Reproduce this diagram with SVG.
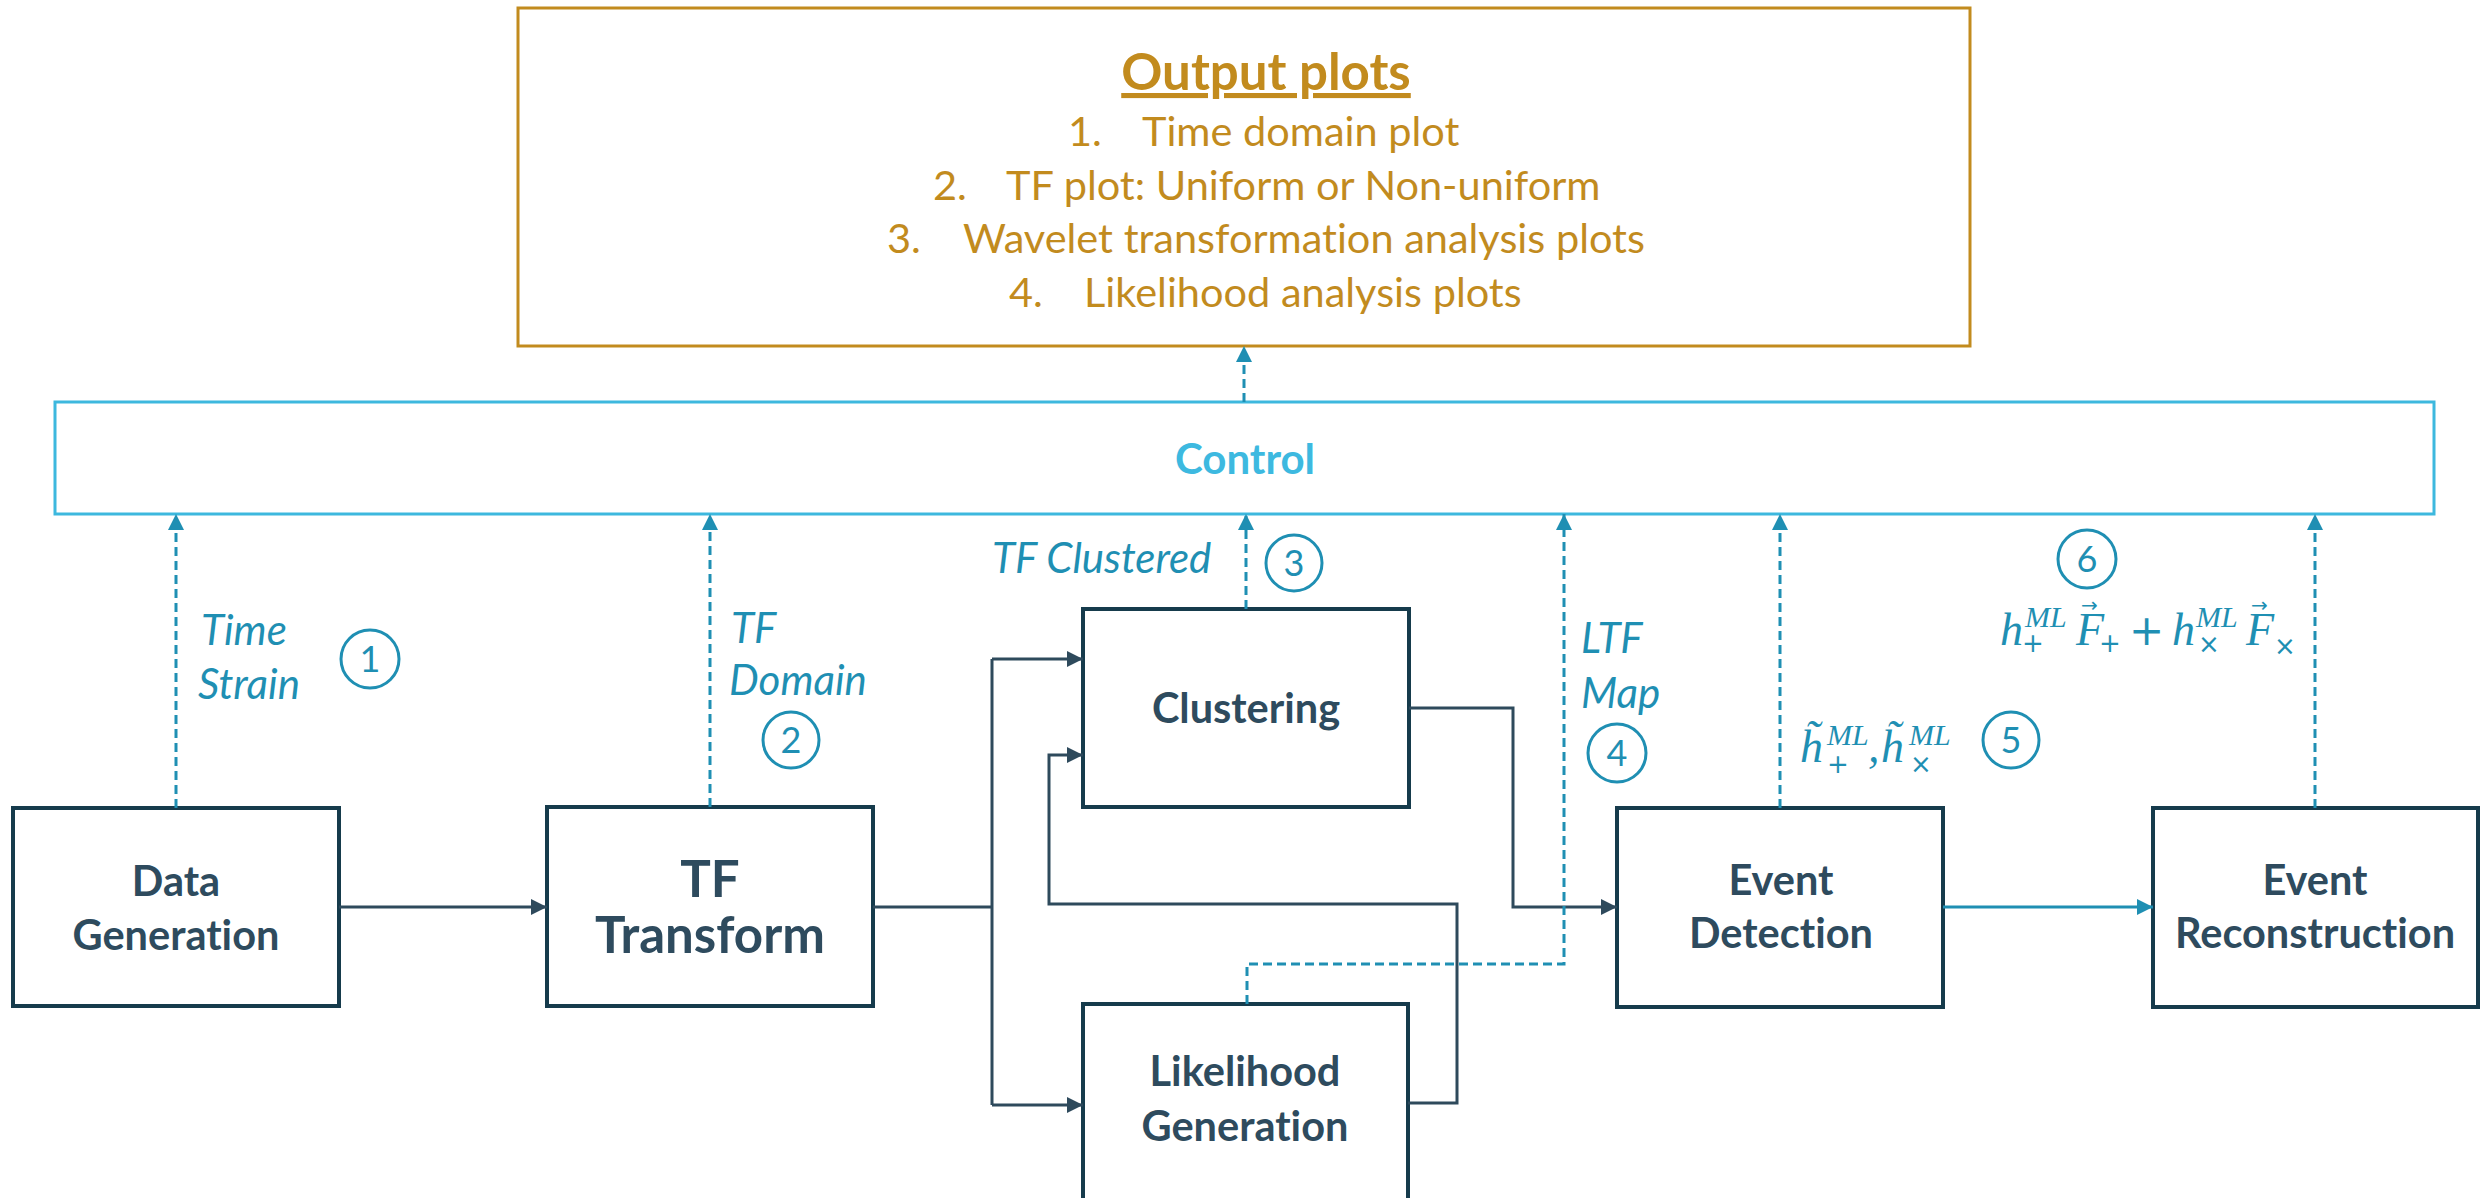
<svg xmlns="http://www.w3.org/2000/svg" width="2484" height="1198" viewBox="0 0 2484 1198">
<style>
text{font-variant-ligatures:none}
.node{fill:#fff;stroke:#163b4c;stroke-width:4}
.nt{font-family:Lato,"Open Sans",sans-serif;font-weight:bold;font-size:41.5px;fill:#2e4b5e;text-anchor:middle}
.big{font-size:51px}
.solid{fill:none;stroke:#2e4a5c;stroke-width:3}
.dash{fill:none;stroke:#1f8fb3;stroke-width:3;stroke-dasharray:9 5}
.lab{font-family:Lato,"Open Sans",sans-serif;font-style:italic;font-size:42px;fill:#1f8fb3}
.circ{fill:none;stroke:#1f8fb3;stroke-width:3}
.cn{font-family:Lato,"Open Sans",sans-serif;font-size:36px;fill:#1f8fb3;text-anchor:middle}
.gold{font-family:Lato,"Open Sans",sans-serif;font-size:41.5px;fill:#c28b1e}
.m{font-family:"Liberation Serif",serif;font-style:italic;font-size:46px;fill:#1f8fb3}
.sup{font-size:30px}
.op{font-family:"DejaVu Sans",sans-serif;font-style:normal;font-size:26px}
.vec{font-family:"DejaVu Sans",sans-serif;font-style:normal;font-size:20px}
.plus{font-family:"DejaVu Sans",sans-serif;font-style:normal;font-size:42px}
</style>
<defs>
<marker id="aT" viewBox="0 0 16 16" refX="16" refY="8" markerWidth="16" markerHeight="16" markerUnits="userSpaceOnUse" orient="auto"><path d="M0,0 L16,8 L0,16 z" fill="#1f8fb3"/></marker>
<marker id="aD" viewBox="0 0 16 16" refX="16" refY="8" markerWidth="16" markerHeight="16" markerUnits="userSpaceOnUse" orient="auto"><path d="M0,0 L16,8 L0,16 z" fill="#2e4a5c"/></marker>
</defs>
<rect width="2484" height="1198" fill="#fff"/>

<g id="output">
<rect x="518" y="8" width="1452" height="338" fill="#fff" stroke="#c28b1e" stroke-width="3"/>
<text x="1266" y="90" text-anchor="middle" font-family="Lato,'Open Sans',sans-serif" font-weight="bold" font-size="51" fill="#c28b1e" text-decoration="underline">Output plots</text>
<text class="gold" x="1068" y="146">1.</text><text class="gold" x="1142" y="146">Time domain plot</text>
<text class="gold" x="933" y="200">2.</text><text class="gold" x="1006" y="200">TF plot: Uniform or Non-uniform</text>
<text class="gold" x="887" y="253">3.</text><text class="gold" x="963" y="253">Wavelet transformation analysis plots</text>
<text class="gold" x="1009" y="307">4.</text><text class="gold" x="1084" y="307">Likelihood analysis plots</text>
</g>

<g id="control">
<rect x="55" y="402" width="2379" height="112" fill="#fff" stroke="#3db8de" stroke-width="3"/>
<text x="1245" y="474" text-anchor="middle" font-family="Lato,'Open Sans',sans-serif" font-weight="bold" font-size="42" fill="#3db9e0">Control</text>
</g>

<g id="data-generation">
<rect class="node" x="13" y="808" width="326" height="198"/>
<text class="nt" x="176" y="896">Data</text>
<text class="nt" x="176" y="950">Generation</text>
</g>
<g id="tf-transform">
<rect class="node" x="547" y="807" width="326" height="199"/>
<text class="nt big" x="710" y="897">TF</text>
<text class="nt big" x="710" y="953">Transform</text>
</g>
<g id="clustering">
<rect class="node" x="1083" y="609" width="326" height="198"/>
<text class="nt" x="1246" y="723">Clustering</text>
</g>
<g id="likelihood-generation">
<rect class="node" x="1083" y="1004" width="325" height="220"/>
<text class="nt" x="1245" y="1086">Likelihood</text>
<text class="nt" x="1245" y="1141">Generation</text>
</g>
<g id="event-detection">
<rect class="node" x="1617" y="808" width="326" height="199"/>
<text class="nt" x="1781" y="895">Event</text>
<text class="nt" x="1781" y="948">Detection</text>
</g>
<g id="event-reconstruction">
<rect class="node" x="2153" y="808" width="325" height="199"/>
<text class="nt" x="2315" y="895">Event</text>
<text class="nt" x="2315" y="948">Reconstruction</text>
</g>

<g id="connectors">
<path class="solid" d="M339,907 H547" marker-end="url(#aD)"/>
<path class="solid" d="M873,907 H992"/>
<path class="solid" d="M992,659 V1105"/>
<path class="solid" d="M992,659 H1083" marker-end="url(#aD)"/>
<path class="solid" d="M992,1105 H1083" marker-end="url(#aD)"/>
<path class="solid" d="M1408,1103 H1457 V904 H1049 V755 H1083" marker-end="url(#aD)"/>
<path class="solid" d="M1409,708 H1513 V907 H1617" marker-end="url(#aD)"/>
<path d="M1943,907 H2153" fill="none" stroke="#1f8fb3" stroke-width="3" marker-end="url(#aT)"/>
<path class="dash" d="M176,808 V514" marker-end="url(#aT)"/>
<path class="dash" d="M710,807 V514" marker-end="url(#aT)"/>
<path class="dash" d="M1246,609 V514" marker-end="url(#aT)"/>
<path class="dash" d="M1247,1004 V964 H1564 V514" marker-end="url(#aT)"/>
<path class="dash" d="M1780,808 V514" marker-end="url(#aT)"/>
<path class="dash" d="M2315,808 V514" marker-end="url(#aT)"/>
<path class="dash" d="M1244,402 V346" marker-end="url(#aT)"/>
</g>

<g id="labels">
<text class="lab" x="201" y="645">Time</text>
<text class="lab" x="198" y="699">Strain</text>
<circle class="circ" cx="370" cy="659" r="29"/><text class="cn" x="370" y="672">1</text>
<text class="lab" x="731" y="643">TF</text>
<text class="lab" x="729" y="695">Domain</text>
<circle class="circ" cx="791" cy="740" r="28"/><text class="cn" x="791" y="753">2</text>
<text class="lab" x="992" y="573">TF Clustered</text>
<circle class="circ" cx="1294" cy="563" r="28"/><text class="cn" x="1294" y="576">3</text>
<text class="lab" x="1581" y="653">LTF</text>
<text class="lab" x="1581" y="708">Map</text>
<circle class="circ" cx="1617" cy="753" r="29"/><text class="cn" x="1617" y="766">4</text>
<circle class="circ" cx="2011" cy="740" r="28"/><text class="cn" x="2011" y="753">5</text>
<circle class="circ" cx="2087" cy="559" r="29"/><text class="cn" x="2087" y="572">6</text>

<text class="m"><tspan x="1800" y="762">h̃</tspan><tspan class="sup" x="1827" y="745">ML</tspan><tspan class="op" x="1827" y="773">+</tspan><tspan x="1868" y="762">,</tspan><tspan x="1881" y="762">h̃</tspan><tspan class="sup" x="1909" y="745">ML</tspan><tspan class="op" x="1910" y="773">×</tspan></text>

<text class="m"><tspan x="2000" y="645">h</tspan><tspan class="sup" x="2025" y="627">ML</tspan><tspan class="op" x="2022" y="652">+</tspan><tspan x="2076" y="645">F</tspan><tspan class="vec" x="2081" y="612">→</tspan><tspan class="op" x="2099" y="652">+</tspan><tspan class="plus" x="2129" y="645">+</tspan><tspan x="2172" y="645">h</tspan><tspan class="sup" x="2196" y="627">ML</tspan><tspan class="op" x="2198" y="653">×</tspan><tspan x="2246" y="645">F</tspan><tspan class="vec" x="2251" y="612">→</tspan><tspan class="op" x="2274" y="655">×</tspan></text>
</g>
</svg>
